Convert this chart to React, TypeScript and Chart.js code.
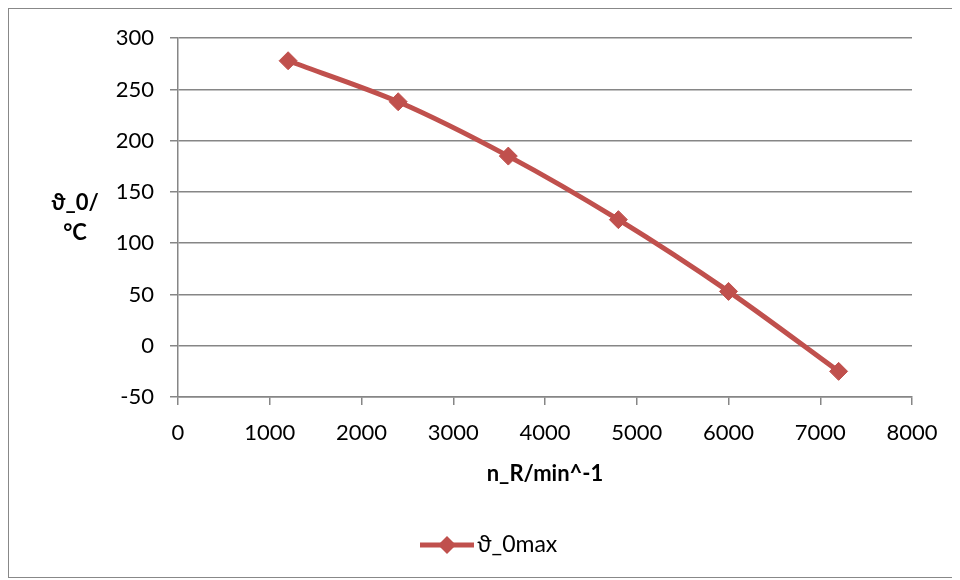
import React, { useEffect, useRef } from "react";
import { Chart, registerables } from "chart.js";

Chart.register(...registerables);

const rpm = [1200, 2400, 3600, 4800, 6000, 7200];
const temp = [278, 238, 185, 123, 53, -25];
const seriesLabel = "ϑ_0max";
const xTitle = "n_R/min^-1";
const yTitle = ["ϑ_0/", "°C"];

const RED = "#C0504D";
const GRID = "#868686";
const FONT = "Lato, 'Open Sans', sans-serif";

export default function App() {
  const ref = useRef<HTMLCanvasElement | null>(null);
  useEffect(() => {
    if (!ref.current) return;
    const extras = {
      id: "extras",
      afterDraw(chart: any) {
        const ctx = chart.ctx;
        ctx.save();
        ctx.fillStyle = "#000";
        ctx.font = `bold 22px ${FONT}`;
        ctx.textAlign = "center";
        ctx.textBaseline = "middle";
        ctx.fillText(yTitle[0], 66, 194);
        ctx.fillText(yTitle[1], 66, 224);
        const ly = 536;
        ctx.strokeStyle = RED;
        ctx.lineWidth = 5;
        ctx.beginPath();
        ctx.moveTo(411, ly);
        ctx.lineTo(465, ly);
        ctx.stroke();
        ctx.fillStyle = RED;
        ctx.beginPath();
        ctx.moveTo(438 - 9, ly);
        ctx.lineTo(438, ly - 9);
        ctx.lineTo(438 + 9, ly);
        ctx.lineTo(438, ly + 9);
        ctx.closePath();
        ctx.fill();
        ctx.fillStyle = "#000";
        ctx.font = `23px ${FONT}`;
        ctx.textAlign = "left";
        ctx.fillText(chart.data.datasets[0].label, 468, ly);
        ctx.restore();
      },
    };
    const chart = new Chart(ref.current, {
      type: "line",
      data: {
        datasets: [
          {
            label: seriesLabel,
            data: rpm.map((x, i) => ({ x, y: temp[i] })),
            borderColor: RED,
            backgroundColor: RED,
            borderWidth: 5,
            pointStyle: "rectRot",
            pointRadius: 9,
            pointBorderWidth: 1,
            tension: 0.3,
            fill: false,
          },
        ],
      },
      options: {
        animation: false,
        responsive: false,
        layout: { padding: { top: 29, right: 43, left: 0, bottom: 0 } },
        plugins: { legend: { display: false }, tooltip: { enabled: false } },
        scales: {
          x: {
            type: "linear",
            min: 0,
            max: 8000,
            ticks: {
              stepSize: 1000,
              color: "#000",
              font: { family: FONT, size: 22 },
              padding: 15,
              maxRotation: 0,
              callback: (v: any) => String(v),
            },
            grid: { display: true, drawOnChartArea: false, drawTicks: true, tickLength: 8, color: GRID, lineWidth: 1.5 },
            border: { display: true, color: GRID, width: 1.5 },
            title: {
              display: true,
              text: xTitle,
              color: "#000",
              font: { family: FONT, size: 22, weight: "bold" },
              padding: { top: 0, bottom: 90 },
            },
            afterFit(scale: any) {
              scale.height = 180;
            },
          },
          y: {
            min: -50,
            max: 300,
            ticks: { stepSize: 50, color: "#000", font: { family: FONT, size: 22 }, padding: 16, callback: (v: any) => String(v) },
            grid: { color: GRID, lineWidth: 1.5, tickLength: 8 },
            border: { display: true, color: GRID, width: 1.5 },
            afterFit(scale: any) {
              scale.width = 169;
            },
          },
        },
      },
      plugins: [extras],
    });
    return () => chart.destroy();
  }, []);
  return (
    <div style={{ width: 946, height: 568, border: "1px solid #888", background: "#fff" }}>
      <canvas ref={ref} width={946} height={568} style={{ display: "block" }} />
    </div>
  );
}
